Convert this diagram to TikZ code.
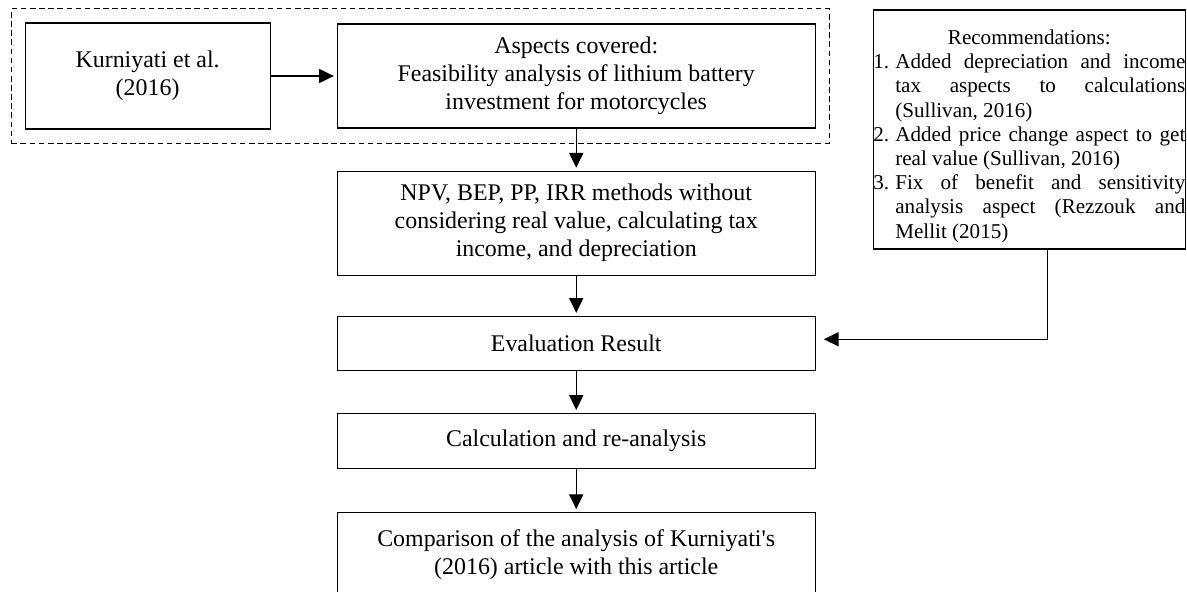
\documentclass[tikz,border=0pt]{standalone}
\usepackage{fontspec}
\setmainfont{Liberation Serif}
\usepackage{tikz}
\usetikzlibrary{arrows.meta,positioning,fit}

\newcommand{\recitem}[2]{\par\noindent\hangindent=0.55cm\hangafter=1\makebox[0.55cm][l]{#1}#2\par}

\begin{document}
\begin{tikzpicture}[
  node distance=1.075cm,
  font=\fontsize{17}{20}\selectfont,
  box/.style={rectangle, draw, line width=0.8pt, minimum width=11.95cm, minimum height=2.6cm, align=center},
  recbox/.style={rectangle, draw, line width=0.8pt, text width=7.8cm, minimum height=5.975cm, inner xsep=0pt, align=justify, font=\fontsize{15}{17.2}\selectfont},
  arrow/.style={-{Triangle[length=10.5pt,width=10pt]}, line width=0.8pt, shorten >=2pt}
]
  \useasboundingbox (0,0) rectangle (29.675,-14.775);

  \node[box, minimum width=6.125cm, minimum height=2.65cm] (kurn) at (3.69,-1.9) {Kurniyati et al.\\(2016)};
  \node[box, right=1.65cm of kurn] (aspects) {Aspects covered:\\Feasibility analysis of lithium battery\\investment for motorcycles};
  \node[box, below=1.05cm of aspects] (npv) {NPV, BEP, PP, IRR methods without\\considering real value, calculating tax\\income, and depreciation};
  \node[box, minimum height=1.35cm, below=1.0cm of npv] (eval) {Evaluation Result};
  \node[box, minimum height=1.375cm, below=1.05cm of eval] (calc) {Calculation and re-analysis};
  \node[box, minimum height=2.1cm, below=of calc] (comp) {Comparison of the analysis of Kurniyati\textquotesingle s\\(2016) article with this article};

  % dashed frame round the reviewed study
  \node[draw, dashed, dash pattern=on 4pt off 2.5pt, line width=0.6pt, fit=(kurn)(aspects), inner xsep=0.33cm, inner ysep=0.34cm] (study) {};

  \node[recbox, right=1.425cm of aspects.north east, anchor=north west, yshift=0.35cm] (recom) {%
    {\centering\rule{0pt}{20pt}Recommendations:\par}
    \recitem{1.}{Added depreciation and income\linebreak tax aspects to calculations\linebreak (Sullivan, 2016)}
    \recitem{2.}{Added price change aspect to get\linebreak real value (Sullivan, 2016)}
    \recitem{3.}{Fix of benefit and sensitivity\linebreak analysis aspect (Rezzouk and\linebreak Mellit (2015)}};

  \draw[arrow] (kurn) -- (aspects);
  \draw[arrow] (aspects) -- (npv);
  \draw[arrow] (npv) -- (eval);
  \draw[arrow] (eval) -- (calc);
  \draw[arrow] (calc) -- (comp);
  \draw[arrow, shorten >=0.2cm] ([xshift=0.45cm]recom.south) |- ([yshift=0.1cm]eval.east);
\end{tikzpicture}
\end{document}
